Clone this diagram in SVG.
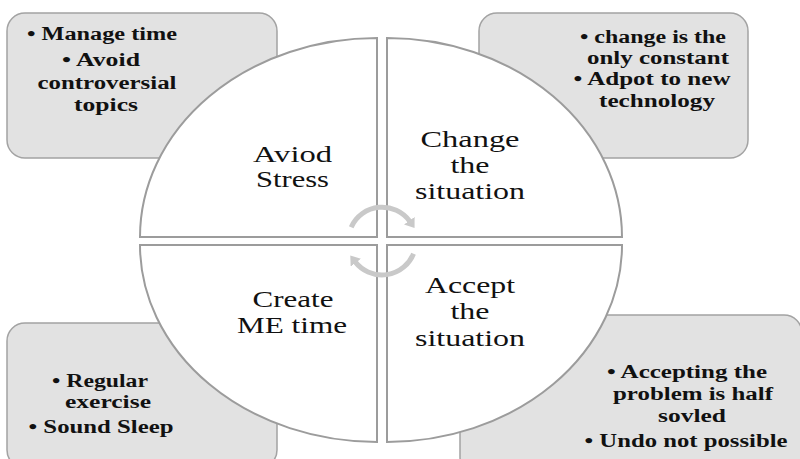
<svg xmlns="http://www.w3.org/2000/svg" width="800" height="459" viewBox="0 0 800 459">
<style>
.box{fill:#e2e2e2;stroke:#a3a3a3;stroke-width:1.5}
.quad{fill:#ffffff;stroke:#9c9c9c;stroke-width:2}
.arc{fill:none;stroke:#c9c9c9;stroke-width:5}
.bt{font-family:"Liberation Serif","DejaVu Serif","Noto Serif",serif;font-size:18px;font-weight:bold;fill:#111;text-anchor:middle}
.qt{font-family:"Liberation Serif","DejaVu Serif","Noto Serif",serif;font-size:23px;fill:#111;text-anchor:middle}
</style>
<defs>
<marker id="ah" markerWidth="2" markerHeight="2.6" refX="0.2" refY="1.3" orient="auto" markerUnits="strokeWidth">
<path d="M0,0 L1.8,1.3 L0,2.6 Z" fill="#c9c9c9"/>
</marker>
</defs>
<g id="box-top-left">
<rect class="box" x="7" y="13" width="270" height="145" rx="18"/>
<text class="bt" x="102" y="40" textLength="150" lengthAdjust="spacingAndGlyphs">• Manage time</text>
<text class="bt" x="101" y="66" textLength="78" lengthAdjust="spacingAndGlyphs">• Avoid</text>
<text class="bt" x="107" y="89" textLength="139" lengthAdjust="spacingAndGlyphs">controversial</text>
<text class="bt" x="106" y="111" textLength="64" lengthAdjust="spacingAndGlyphs">topics</text>
</g>
<g id="box-top-right">
<rect class="box" x="479" y="13" width="269" height="145" rx="18"/>
<text class="bt" x="653" y="43" textLength="146" lengthAdjust="spacingAndGlyphs">• change is the</text>
<text class="bt" x="658" y="64" textLength="142" lengthAdjust="spacingAndGlyphs">only constant</text>
<text class="bt" x="652" y="85" textLength="157" lengthAdjust="spacingAndGlyphs">• Adpot to new</text>
<text class="bt" x="657" y="107" textLength="116" lengthAdjust="spacingAndGlyphs">technology</text>
</g>
<g id="box-bottom-left">
<rect class="box" x="7" y="323" width="270" height="145" rx="18"/>
<text class="bt" x="100" y="387" textLength="96" lengthAdjust="spacingAndGlyphs">• Regular</text>
<text class="bt" x="108" y="408" textLength="86" lengthAdjust="spacingAndGlyphs">exercise</text>
<text class="bt" x="101" y="433" textLength="145" lengthAdjust="spacingAndGlyphs">• Sound Sleep</text>
</g>
<g id="box-bottom-right">
<rect class="box" x="460" y="315" width="342" height="160" rx="18"/>
<text class="bt" x="687" y="378" textLength="160" lengthAdjust="spacingAndGlyphs">• Accepting the</text>
<text class="bt" x="693" y="400" textLength="160" lengthAdjust="spacingAndGlyphs">problem is half</text>
<text class="bt" x="692" y="422" textLength="68" lengthAdjust="spacingAndGlyphs">sovled</text>
<text class="bt" x="686" y="447" textLength="203" lengthAdjust="spacingAndGlyphs">• Undo not possible</text>
</g>
<g id="quad-avoid-stress">
<path class="quad" d="M377,237 L140,237 A237,199 0 0,1 377,38 Z"/>
<text class="qt" x="292.5" y="162" textLength="79" lengthAdjust="spacingAndGlyphs">Aviod</text>
<text class="qt" x="292.5" y="187" textLength="73" lengthAdjust="spacingAndGlyphs">Stress</text>
</g>
<g id="quad-change">
<path class="quad" d="M387,237 L387,38 A235,199 0 0,1 622,237 Z"/>
<text class="qt" x="470" y="147" textLength="99" lengthAdjust="spacingAndGlyphs">Change</text>
<text class="qt" x="470" y="173" textLength="39" lengthAdjust="spacingAndGlyphs">the</text>
<text class="qt" x="470" y="199" textLength="110" lengthAdjust="spacingAndGlyphs">situation</text>
</g>
<g id="quad-create">
<path class="quad" d="M377,245 L377,442 A237,197 0 0,1 140,245 Z"/>
<text class="qt" x="293" y="307" textLength="81" lengthAdjust="spacingAndGlyphs">Create</text>
<text class="qt" x="292" y="333" textLength="110" lengthAdjust="spacingAndGlyphs">ME time</text>
</g>
<g id="quad-accept">
<path class="quad" d="M387,245 L622,245 A235,197 0 0,1 387,442 Z"/>
<text class="qt" x="470" y="293" textLength="90" lengthAdjust="spacingAndGlyphs">Accept</text>
<text class="qt" x="470" y="319" textLength="39" lengthAdjust="spacingAndGlyphs">the</text>
<text class="qt" x="470" y="346" textLength="110" lengthAdjust="spacingAndGlyphs">situation</text>
</g>
<g id="connectors">
<path class="arc" d="M351.2,227.2 A34,34 0 0,1 409.9,221.5" marker-end="url(#ah)"/>
<path class="arc" d="M413.5,253.7 A34,34 0 0,1 355.2,261.9" marker-end="url(#ah)"/>
</g>
</svg>
